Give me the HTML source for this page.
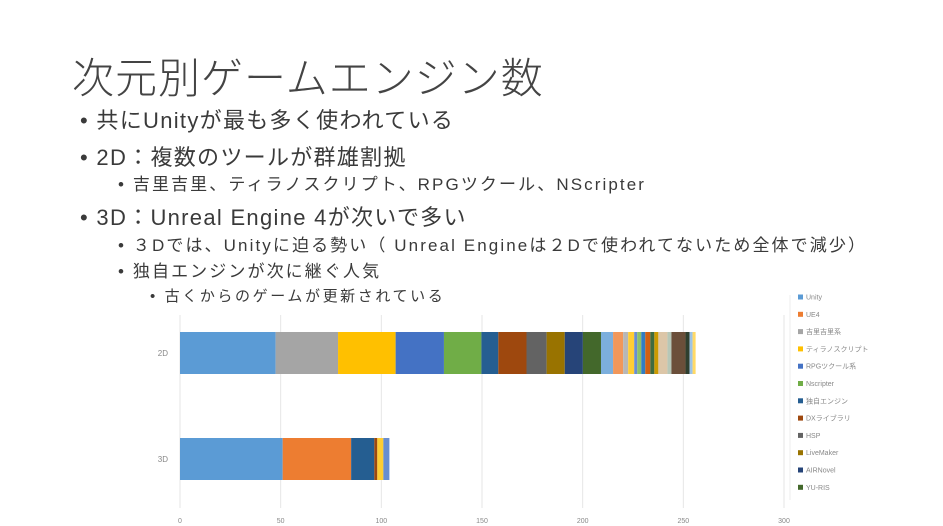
<!DOCTYPE html>
<html><head><meta charset="utf-8"><style>
body{margin:0;width:943px;height:526px;background:#fff;overflow:hidden;font-family:"Liberation Sans","Noto Sans CJK JP",sans-serif;color:#333}
.t{position:absolute;white-space:nowrap;color:#3a3a3a}
.m{font-size:22px;letter-spacing:1.3px}
.s{font-size:17px;letter-spacing:2.1px}
</style></head><body>
<div class="t" style="left:72px;top:45px;font-size:42px;font-weight:300;color:#444;letter-spacing:1px">次元別ゲームエンジン数</div>
<div class="t m" style="left:80px;top:103px">• 共にUnityが最も多く使われている</div>
<div class="t m" style="left:80px;top:140px">• 2D：複数のツールが群雄割拠</div>
<div class="t s" style="left:118px;top:170px">• 吉里吉里、ティラノスクリプト、RPGツクール、NScripter</div>
<div class="t m" style="left:80px;top:200px">• 3D：Unreal Engine 4が次いで多い</div>
<div class="t s" style="left:118px;top:231px">• ３Dでは、Unityに迫る勢い（ Unreal Engineは２Dで使われてないため全体で減少）</div>
<div class="t s" style="left:118px;top:257px">• 独自エンジンが次に継ぐ人気</div>
<div class="t" style="left:150px;top:285px;font-size:15px;letter-spacing:2.6px">• 古くからのゲームが更新されている</div>
<svg id="chart" width="943" height="526" style="position:absolute;left:0;top:0"></svg>
<script>
const categories=["2D","3D"];
const seriesNames=["Unity","UE4","吉里吉里系","ティラノスクリプト","RPGツクール系","Nscripter","独自エンジン","DXライブラリ","HSP","LiveMaker","AIRNovel","YU-RIS","s13","s14","s15","s16","s17","s18","s19","s20","s21","s22","s23","s24","s25","s26","s27","s28"];
const values2D=[47.5,0,31,28.6,24,18.6,8.4,14,10,9,9,9,6,5,2.5,3,1.5,2,2,2.5,2,2,4.5,2,7,2,1.5,1.5];
const values3D=[51,34,0,0,0,0,11.5,1.5,0,0,0,0,0,0,0,3,3,0,0,0,0,0,0,0,0,0,0,0];
const ticks=[0,50,100,150,200,250,300];
const colors=["#5B9BD5","#ED7D31","#A5A5A5","#FFC000","#4472C4","#70AD47","#255E91","#9E480E","#636363","#997300","#264478","#43682B","#7CAFDD","#F1975A","#B7B7B7","#FFCD33","#698ED0","#8CC168","#327DC2","#D26012","#3F6B3F","#CC9A00","#DCC6A8","#B7C7B7","#6B4F3A","#2F3F2F","#9DC3E6","#FFD966"];
const svg=document.getElementById('chart');const NS='http://www.w3.org/2000/svg';
const x0=180,pxPer=(784-180)/300;
const xs=v=>x0+v*pxPer;
const bandY={"2D":332,"3D":438},bh=42;
function mk(t,a){const e=document.createElementNS(NS,t);for(const k in a)e.setAttribute(k,a[k]);svg.appendChild(e);return e;}
ticks.forEach(t=>{
 const g=mk('line',{x1:xs(t),x2:xs(t),y1:315,y2:508,stroke:'#e6e6e6','stroke-width':1});
 
 
 const l=mk('text',{x:xs(t),y:523,'font-size':7,fill:'#888','text-anchor':'middle'});l.textContent=t;
 
 
});
categories.forEach((c,ci)=>{
 const vals=ci===0?values2D:values3D;const y=bandY[c];
 const l=mk('text',{x:168,y:y+bh/2+3,'font-size':8,fill:'#888','text-anchor':'end'});l.textContent=c;
 
 
 let acc=0;
 vals.forEach((v,i)=>{if(v<=0.01){return;}
  const r=mk('rect',{x:xs(acc),y:y,width:v*pxPer,height:bh,fill:colors[i]});
  
  
  acc+=v;});
});
mk('line',{x1:790,x2:790,y1:295,y2:500,stroke:'#eee'});
for(let i=0;i<12;i++){
 const y=297+i*17.3;
 const r=mk('rect',{x:798,y:y-2.5,width:5,height:5,fill:colors[i]});
 
 
 const t=mk('text',{x:806,y:y+2.5,'font-size':7,fill:'#888'});t.textContent=seriesNames[i];
 
 
}
</script>
</body></html>
